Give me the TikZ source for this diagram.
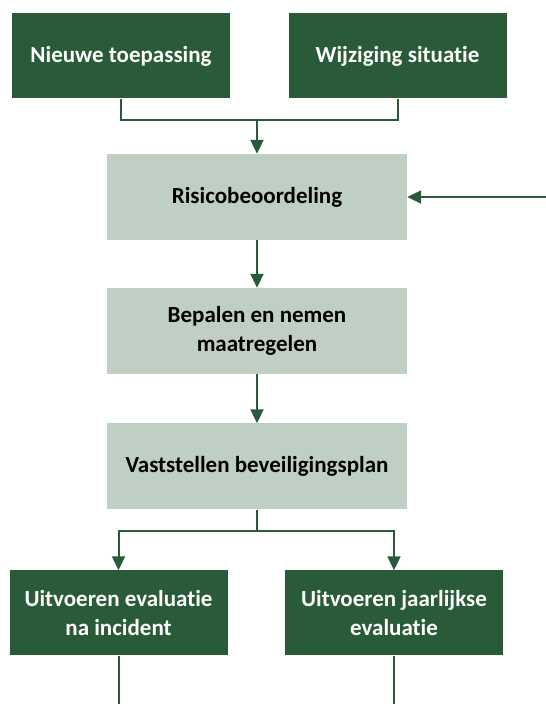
\documentclass[tikz,border=0pt]{standalone}
\usepackage{fontspec}
\setmainfont[Ligatures=NoCommon]{Carlito}
\usetikzlibrary{positioning,arrows.meta}
\definecolor{darkgreen}{RGB}{42, 91, 56}
\definecolor{palegreen}{RGB}{191, 207, 196}

\begin{document}
\begin{tikzpicture}[
    x=1pt, y=1pt,
    trigger/.style={rectangle, fill=darkgreen, text=white, minimum width=218pt, minimum height=85pt, align=center, font=\fontsize{23}{29}\selectfont\bfseries},
    stage/.style={rectangle, fill=palegreen, text=black, minimum width=300pt, minimum height=86pt, align=center, font=\fontsize{23}{29}\selectfont\bfseries},
    link/.style={darkgreen, line width=2pt},
    flow/.style={link, -{Triangle[length=14pt, width=13pt]}}
]
    \useasboundingbox (0,0) rectangle (546,704);

    % Triggers
    \node[trigger] (nieuw) at (121, 648) {Nieuwe toepassing};
    \node[trigger] (wijz) at (397.5, 648) {Wijziging situatie};

    % Main steps
    \node[stage] (risico) at (257, 507) {Risicobeoordeling};
    \node[stage] (bepalen) at (257, 373) {Bepalen en nemen\\maatregelen};
    \node[stage] (vast) at (257, 237.5) {Vaststellen beveiligingsplan};

    % Evaluations
    \node[trigger] (incident) at (118.5, 91) {Uitvoeren evaluatie\\na incident};
    \node[trigger] (jaar) at (394, 91) {Uitvoeren jaarlijkse\\evaluatie};

    % Junctions and loose ends
    \coordinate (merge) at (257, 584);
    \coordinate (split) at (257, 173);
    \coordinate (back) at (546, 507);
    \coordinate (outL) at (118.5, 0);
    \coordinate (outR) at (394, 0);

    % Edges
    \draw[link] (nieuw.south) |- (merge) -| (wijz.south);
    \draw[flow] (merge) -- (risico);
    \draw[flow] (back) -- (risico);
    \draw[flow] (risico) -- (bepalen);
    \draw[flow] (bepalen) -- (vast);
    \draw[link] (vast) -- (split);
    \draw[flow] (split) -| (incident);
    \draw[flow] (split) -| (jaar);
    \draw[link] (incident) -- (outL);
    \draw[link] (jaar) -- (outR);
\end{tikzpicture}
\end{document}
